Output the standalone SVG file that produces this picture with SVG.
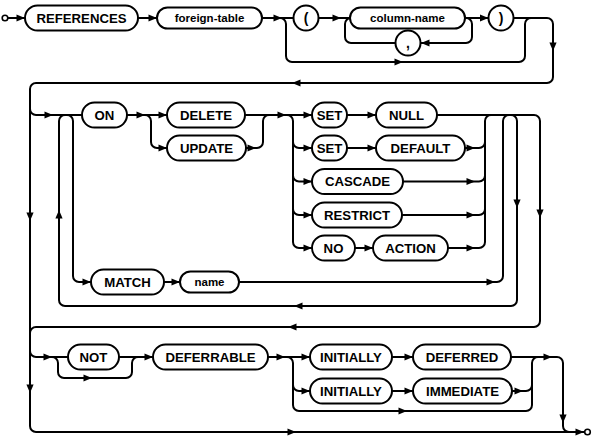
<svg xmlns="http://www.w3.org/2000/svg" xmlns:xlink="http://www.w3.org/1999/xlink" width="592" height="438" viewBox="0 0 592 438">
<style>
.b{fill:#fff;stroke:#000;stroke-width:2}
.c{fill:none;stroke:#000;stroke-width:2}
.k{font-family:"Liberation Sans",Arial,sans-serif;font-weight:bold;font-size:13.2px;text-anchor:middle}
.i{font-family:"Liberation Sans",Arial,sans-serif;font-weight:bold;font-size:11.5px;text-anchor:middle}
.p{font-family:"Liberation Sans",Arial,sans-serif;font-weight:bold;font-size:14px;text-anchor:middle}
.t{fill:#fff;stroke:#000;stroke-width:1.6}
</style>
<defs>
<path id="ar" d="M0 0 L-8.5 -3.6 L-8.5 3.6 Z" fill="#000"/>
</defs>
<rect width="592" height="438" fill="#fff"/>
<g id="connectors">
<path class="c" d="M8 18 L25 18 M138 18 L157 18 M262 18 L293.5 18"/>
<path class="c" d="M280 18 A6 6 0 0 1 286 24 L286 56 A6 6 0 0 0 292 62 L519 62 A6 6 0 0 0 525 56 L525 24 A6 6 0 0 1 531 18"/>
<path class="c" d="M318.5 18 L350 18"/>
<path class="c" d="M395.5 43 L351 43 A6 6 0 0 1 345 37 L345 24 A6 6 0 0 1 351 18"/>
<path class="c" d="M465 18 L466 18 A6 6 0 0 1 472 24 L472 37 A6 6 0 0 1 466 43 L420.5 43"/>
<path class="c" d="M465 18 L488.5 18"/>
<path class="c" d="M513.5 18 L547 18 A6 6 0 0 1 553 24 L553 77 A6 6 0 0 1 547 83 L36 83 A6 6 0 0 0 30 89 L30 426 A6 6 0 0 0 36 432 L584 432"/>
<path class="c" d="M30 109 A6 6 0 0 0 36 115 L82 115"/>
<path class="c" d="M511 115 A6 6 0 0 1 517 121 L517 300 A6 6 0 0 1 511 306 L65 306 A6 6 0 0 1 59 300 L59 121 A6 6 0 0 1 65 115"/>
<path class="c" d="M67 115 A6 6 0 0 1 73 121 L73 276 A6 6 0 0 0 79 282 L91 282 M164 282 L180 282"/>
<path class="c" d="M239 282 L497 282 A6 6 0 0 0 503 276 L503 121 A6 6 0 0 1 509 115"/>
<path class="c" d="M127 115 L167 115"/>
<path class="c" d="M145 115 A6 6 0 0 1 151 121 L151 142 A6 6 0 0 0 157 148 L167 148"/>
<path class="c" d="M246 148 L257 148 A6 6 0 0 0 263 142 L263 121 A6 6 0 0 1 269 115"/>
<path class="c" d="M245 115 L312 115"/>
<path class="c" d="M287 115 A6 6 0 0 1 293 121 L293 242 A6 6 0 0 0 299 248 L312 248 M293 142 A6 6 0 0 0 299 148 L312 148 M293 175.5 A6 6 0 0 0 299 181.5 L312 181.5 M293 209 A6 6 0 0 0 299 215 L312 215"/>
<path class="c" d="M347 115 L376 115 M347 148 L376 148 M355 248 L373 248"/>
<path class="c" d="M437 115 L534 115 A6 6 0 0 1 540 121 L540 321 A6 6 0 0 1 534 327 L36 327 A6 6 0 0 0 30 333"/>
<path class="c" d="M465 148 L479 148 A6 6 0 0 0 485 142 M403 181.5 L479 181.5 A6 6 0 0 0 485 175.5 M402 215 L479 215 A6 6 0 0 0 485 209 M448 248 L479 248 A6 6 0 0 0 485 242 L485 121 A6 6 0 0 1 491 115"/>
<path class="c" d="M30 351 A6 6 0 0 0 36 357 L68 357"/>
<path class="c" d="M52 357 A6 6 0 0 1 58 363 L58 372 A6 6 0 0 0 64 378 L126 378 A6 6 0 0 0 132 372 L132 363 A6 6 0 0 1 138 357"/>
<path class="c" d="M119 357 L153 357 M268 357 L310 357"/>
<path class="c" d="M287 357 A6 6 0 0 1 293 363 L293 405 A6 6 0 0 0 299 411 L526 411 A6 6 0 0 0 532 405 L532 363 A6 6 0 0 1 538 357 M293 385 A6 6 0 0 0 299 391 L310 391"/>
<path class="c" d="M392 357 L413 357 M392 391 L413 391"/>
<path class="c" d="M511 357 L557 357 A6 6 0 0 1 563 363 L563 426 A6 6 0 0 0 569 432"/>
<path class="c" d="M512 391 L526 391 A6 6 0 0 0 532 385"/>
<use xlink:href="#ar" transform="translate(25 18)"/>
<use xlink:href="#ar" transform="translate(157 18)"/>
<use xlink:href="#ar" transform="translate(282 18)"/>
<use xlink:href="#ar" transform="translate(403 62)"/>
<use xlink:href="#ar" transform="translate(341 18)"/>
<use xlink:href="#ar" transform="translate(421 43) rotate(180)"/>
<use xlink:href="#ar" transform="translate(488.5 18)"/>
<use xlink:href="#ar" transform="translate(553 51) rotate(90)"/>
<use xlink:href="#ar" transform="translate(292 83) rotate(180)"/>
<use xlink:href="#ar" transform="translate(30 221) rotate(90)"/>
<use xlink:href="#ar" transform="translate(30 393) rotate(90)"/>
<use xlink:href="#ar" transform="translate(296 432)"/>
<use xlink:href="#ar" transform="translate(584 432)"/>
<use xlink:href="#ar" transform="translate(53 115)"/>
<use xlink:href="#ar" transform="translate(517 208) rotate(90)"/>
<use xlink:href="#ar" transform="translate(294 306) rotate(180)"/>
<use xlink:href="#ar" transform="translate(59 210) rotate(-90)"/>
<use xlink:href="#ar" transform="translate(91 282)"/>
<use xlink:href="#ar" transform="translate(180 282)"/>
<use xlink:href="#ar" transform="translate(495 282)"/>
<use xlink:href="#ar" transform="translate(145 115)"/>
<use xlink:href="#ar" transform="translate(167 115)"/>
<use xlink:href="#ar" transform="translate(167 148)"/>
<use xlink:href="#ar" transform="translate(256 148)"/>
<use xlink:href="#ar" transform="translate(286 115)"/>
<use xlink:href="#ar" transform="translate(312 115)"/>
<use xlink:href="#ar" transform="translate(312 148)"/>
<use xlink:href="#ar" transform="translate(312 181.5)"/>
<use xlink:href="#ar" transform="translate(312 215)"/>
<use xlink:href="#ar" transform="translate(312 248)"/>
<use xlink:href="#ar" transform="translate(376 115)"/>
<use xlink:href="#ar" transform="translate(376 148)"/>
<use xlink:href="#ar" transform="translate(373 248)"/>
<use xlink:href="#ar" transform="translate(475 148)"/>
<use xlink:href="#ar" transform="translate(475 181.5)"/>
<use xlink:href="#ar" transform="translate(475 215)"/>
<use xlink:href="#ar" transform="translate(475 248)"/>
<use xlink:href="#ar" transform="translate(540 218) rotate(90)"/>
<use xlink:href="#ar" transform="translate(288 327) rotate(180)"/>
<use xlink:href="#ar" transform="translate(52 357)"/>
<use xlink:href="#ar" transform="translate(92 378)"/>
<use xlink:href="#ar" transform="translate(153 357)"/>
<use xlink:href="#ar" transform="translate(285 357)"/>
<use xlink:href="#ar" transform="translate(310 357)"/>
<use xlink:href="#ar" transform="translate(310 391)"/>
<use xlink:href="#ar" transform="translate(407 411)"/>
<use xlink:href="#ar" transform="translate(413 357)"/>
<use xlink:href="#ar" transform="translate(413 391)"/>
<use xlink:href="#ar" transform="translate(552 357)"/>
<use xlink:href="#ar" transform="translate(523 391)"/>
<use xlink:href="#ar" transform="translate(563 423) rotate(90)"/>
</g>
<g id="start"><circle class="t" cx="5" cy="18" r="2.8"/></g>
<g id="end"><circle class="t" cx="587.5" cy="432" r="2.8"/></g>
<g id="n-references"><rect class="b" x="25" y="5.5" width="113" height="25" rx="12.5"/><text class="k" x="81.5" y="22.7">REFERENCES</text></g>
<g id="n-foreign-table"><rect class="b" x="157" y="7.5" width="105" height="21" rx="10.5"/><text class="i" x="209.5" y="22">foreign-table</text></g>
<g id="n-lparen"><circle class="b" cx="306" cy="18" r="12.5"/><text class="p" x="306" y="22.8">(</text></g>
<g id="n-column-name"><rect class="b" x="350" y="7.5" width="115" height="21" rx="10.5"/><text class="i" x="407.5" y="22">column-name</text></g>
<g id="n-comma"><circle class="b" cx="408" cy="43" r="12.5"/><text class="p" x="408" y="47.8">,</text></g>
<g id="n-rparen"><circle class="b" cx="501" cy="18" r="12.5"/><text class="p" x="501" y="22.8">)</text></g>
<g id="n-on"><rect class="b" x="82" y="102.5" width="45" height="25" rx="12.5"/><text class="k" x="104.5" y="119.7">ON</text></g>
<g id="n-delete"><rect class="b" x="167" y="102.5" width="78" height="25" rx="12.5"/><text class="k" x="206" y="119.7">DELETE</text></g>
<g id="n-update"><rect class="b" x="167" y="135.5" width="79" height="25" rx="12.5"/><text class="k" x="206.5" y="152.7">UPDATE</text></g>
<g id="n-set1"><rect class="b" x="312" y="102.5" width="35" height="25" rx="12.5"/><text class="k" x="329.5" y="119.7">SET</text></g>
<g id="n-null"><rect class="b" x="376" y="102.5" width="61" height="25" rx="12.5"/><text class="k" x="406.5" y="119.7">NULL</text></g>
<g id="n-set2"><rect class="b" x="312" y="135.5" width="35" height="25" rx="12.5"/><text class="k" x="329.5" y="152.7">SET</text></g>
<g id="n-default"><rect class="b" x="376" y="135.5" width="89" height="25" rx="12.5"/><text class="k" x="420.5" y="152.7">DEFAULT</text></g>
<g id="n-cascade"><rect class="b" x="312" y="169" width="91" height="25" rx="12.5"/><text class="k" x="357.5" y="186.2">CASCADE</text></g>
<g id="n-restrict"><rect class="b" x="312" y="202.5" width="90" height="25" rx="12.5"/><text class="k" x="357" y="219.7">RESTRICT</text></g>
<g id="n-no"><rect class="b" x="312" y="235.5" width="43" height="25" rx="12.5"/><text class="k" x="333.5" y="252.7">NO</text></g>
<g id="n-action"><rect class="b" x="373" y="235.5" width="75" height="25" rx="12.5"/><text class="k" x="410.5" y="252.7">ACTION</text></g>
<g id="n-match"><rect class="b" x="91" y="269.5" width="73" height="25" rx="12.5"/><text class="k" x="127.5" y="286.7">MATCH</text></g>
<g id="n-name"><rect class="b" x="180" y="271.5" width="59" height="21" rx="10.5"/><text class="i" x="209.5" y="286">name</text></g>
<g id="n-not"><rect class="b" x="68" y="344.5" width="51" height="25" rx="12.5"/><text class="k" x="93.5" y="361.7">NOT</text></g>
<g id="n-deferrable"><rect class="b" x="153" y="344.5" width="115" height="25" rx="12.5"/><text class="k" x="210.5" y="361.7">DEFERRABLE</text></g>
<g id="n-initially1"><rect class="b" x="310" y="344.5" width="82" height="25" rx="12.5"/><text class="k" x="351" y="361.7">INITIALLY</text></g>
<g id="n-deferred"><rect class="b" x="413" y="344.5" width="98" height="25" rx="12.5"/><text class="k" x="462" y="361.7">DEFERRED</text></g>
<g id="n-initially2"><rect class="b" x="310" y="378.5" width="82" height="25" rx="12.5"/><text class="k" x="351" y="395.7">INITIALLY</text></g>
<g id="n-immediate"><rect class="b" x="413" y="378.5" width="99" height="25" rx="12.5"/><text class="k" x="462.5" y="395.7">IMMEDIATE</text></g>
</svg>
